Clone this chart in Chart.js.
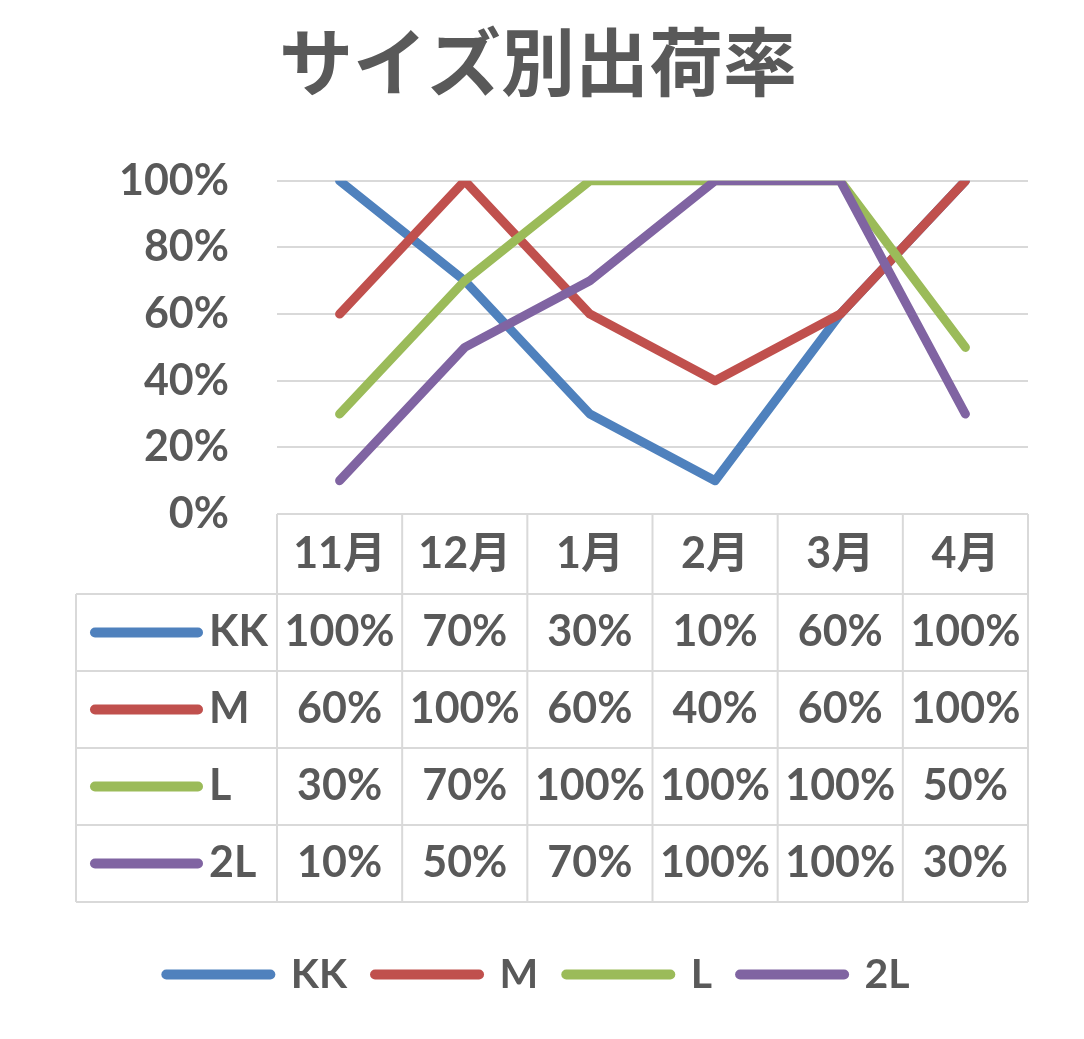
<!DOCTYPE html>
<html>
<head>
<meta charset="utf-8">
<script src="https://cdn.jsdelivr.net/npm/chart.js@4"></script>
<style>
  html, body { margin: 0; background: #fff; }
  #wrap { width: 1084px; height: 1039px; }
</style>
</head>
<body>
<div id="wrap"><canvas id="c"></canvas></div>
<script>
/* ===== データ ===== */
const months = ['11月', '12月', '1月', '2月', '3月', '4月'];
const sizes = ['KK', 'M', 'L', '2L'];
const kk = [100, 70, 30, 10, 60, 100];
const m = [60, 100, 60, 40, 60, 100];
const l = [30, 70, 100, 100, 100, 50];
const l2 = [10, 50, 70, 100, 100, 30];
const yTicks = [0, 20, 40, 60, 80, 100];

const COLORS = ['#4F81BD', '#C0504D', '#9BBB59', '#8064A2'];
const TXT = '#595959';
const GRID = '#d9d9d9';
const FONT = "Lato, 'Noto Sans CJK JP', sans-serif";
const pct = v => v + '%';

/* データテーブル（Excel風） */
const dataTable = {
  id: 'dataTable',
  afterDraw(chart) {
    const { ctx, chartArea: a, scales: { x } } = chart;
    const half = (x.getPixelForValue(1) - x.getPixelForValue(0)) / 2;
    const top = a.bottom, headH = 80, rowH = 77, left = 76;
    const bottom = top + headH + rowH * sizes.length;
    const edges = months.map((_, i) => x.getPixelForValue(i) - half);
    edges.push(x.getPixelForValue(months.length - 1) + half);

    ctx.save();
    ctx.strokeStyle = GRID;
    ctx.lineWidth = 2;
    ctx.beginPath();
    ctx.moveTo(a.left, top); ctx.lineTo(a.right, top);
    for (let r = 0; r <= sizes.length; r++) {
      const y = top + headH + rowH * r;
      ctx.moveTo(left, y); ctx.lineTo(a.right, y);
    }
    edges.forEach(ex => { ctx.moveTo(ex, top); ctx.lineTo(ex, bottom); });
    ctx.moveTo(left, top + headH); ctx.lineTo(left, bottom);
    ctx.stroke();

    ctx.fillStyle = TXT;
    ctx.font = `bold 43px ${FONT}`;
    ctx.textAlign = 'center';
    ctx.textBaseline = 'middle';
    months.forEach((mo, i) => ctx.fillText(mo, x.getPixelForValue(i), top + headH / 2));

    chart.data.datasets.forEach((ds, r) => {
      const cy = top + headH + rowH * r + rowH / 2;
      ds.data.forEach((v, i) => ctx.fillText(pct(v), x.getPixelForValue(i), cy));
      ctx.strokeStyle = ds.borderColor;
      ctx.lineWidth = 10;
      ctx.lineCap = 'round';
      ctx.beginPath();
      ctx.moveTo(95, cy); ctx.lineTo(198, cy);
      ctx.stroke();
      ctx.textAlign = 'left';
      ctx.fillText(ds.label, 209, cy);
      ctx.textAlign = 'center';
    });
    ctx.restore();
  },
};

const series = [kk, m, l, l2];

new Chart(document.getElementById('c'), {
  type: 'line',
  data: {
    labels: months,
    datasets: series.map((d, i) => ({
      label: sizes[i],
      data: d,
      order: series.length - i, // Excelと同じく後の系列を上に描く
      borderColor: COLORS[i],
      backgroundColor: COLORS[i],
      borderWidth: 9,
      borderCapStyle: 'round',
      borderJoinStyle: 'round',
      pointRadius: 0,
      pointBorderWidth: 10,
      pointStyle: 'line',
      tension: 0,
    })),
  },
  options: {
    responsive: true,
    maintainAspectRatio: false,
    animation: false,
    layout: { padding: { left: 0, right: 8, top: 0, bottom: 34 } },
    plugins: {
      title: {
        display: true,
        text: 'サイズ別出荷率',
        color: TXT,
        font: { family: "'Noto Sans CJK JP', sans-serif", size: 74, weight: 'bold' },
        padding: { top: 17, bottom: 75 },
      },
      legend: {
        position: 'bottom',
        labels: {
          color: TXT,
          font: { family: FONT, size: 41, weight: 'bold' },
          usePointStyle: true,
          pointStyleWidth: 104,
          boxHeight: 8,
          padding: 28,
          generateLabels: ch => Chart.defaults.plugins.legend.labels.generateLabels(ch)
            .map(it => ({ ...it, lineWidth: 10, lineCap: 'round' })),
          sort: (a, b) => a.datasetIndex - b.datasetIndex,
        },
      },
      tooltip: { enabled: false },
    },
    scales: {
      x: {
        offset: true,
        grid: { display: false },
        border: { display: false },
        ticks: { display: false },
        afterFit: s => { s.height = 412; },
      },
      y: {
        min: 0,
        max: 100,
        afterBuildTicks: s => { s.ticks = yTicks.map(v => ({ value: v })); },
        grid: { color: GRID, lineWidth: 2, drawTicks: false },
        border: { display: false },
        ticks: { color: TXT, font: { family: FONT, size: 43, weight: 'bold' }, padding: 48, callback: v => pct(v) },
        afterFit: s => { s.width = 277; },
      },
      yRight: {
        position: 'right',
        min: 0,
        max: 100,
        grid: { display: false },
        border: { display: false },
        ticks: { display: false },
        afterFit: s => { s.width = 48; },
      },
    },
  },
  plugins: [dataTable],
});
</script>
</body>
</html>
